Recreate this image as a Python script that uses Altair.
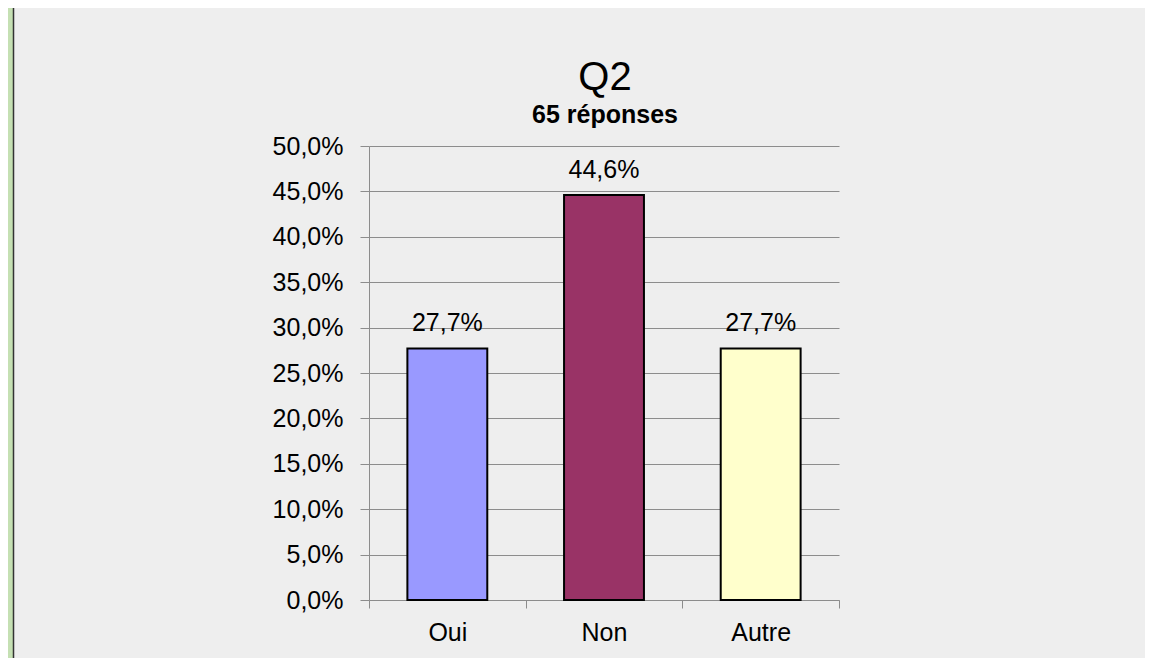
import altair as alt
import pandas as pd

categories = ["Oui", "Non", "Autre"]
shares = [0.277, 0.446, 0.277]
colors = ["#9999ff", "#993366", "#ffffcc"]
y_ticks = [0.0, 0.05, 0.10, 0.15, 0.20, 0.25, 0.30, 0.35, 0.40, 0.45, 0.50]
title_text = "Q2"
subtitle_text = "65 réponses"

df = pd.DataFrame({"cat": categories, "share": shares})

PW, PH = 470, 454
PL, PT = 361, 138
CW, CH = 1137, 650
FONT = "Liberation Sans"
AXIS_GRAY = "#8c8c8c"

x = alt.X(
    "cat:N", sort=categories, title=None,
    scale=alt.Scale(paddingInner=0, paddingOuter=0),
    axis=alt.Axis(labelAngle=0, tickBand="extent", tickSize=8, labelPadding=12,
                  grid=False, domainColor=AXIS_GRAY, tickColor=AXIS_GRAY,
                  labelFontSize=25, labelFont=FONT, labelColor="black"),
)
y = alt.Y(
    "share:Q", title=None,
    scale=alt.Scale(domain=[0, 0.5], nice=False, zero=True),
    axis=alt.Axis(values=y_ticks, format=".1%", grid=True, gridColor=AXIS_GRAY,
                  gridWidth=1, domainColor=AXIS_GRAY, tickColor=AXIS_GRAY,
                  tickSize=9, labelPadding=17, labelFontSize=25, labelFont=FONT,
                  labelColor="black"),
)

bars = alt.Chart(df).mark_bar(
    width=alt.RelativeBandSize(0.51), stroke="black", strokeWidth=2
).encode(
    x=x, y=y,
    color=alt.Color("cat:N", scale=alt.Scale(domain=categories, range=colors), legend=None),
)

labels = alt.Chart(df).mark_text(
    dy=-17, baseline="alphabetic", fontSize=25, font=FONT, color="black"
).encode(x=x, y=y, text=alt.Text("share:Q", format=".1%"))

deco = pd.DataFrame({"k": [0]})
strip = alt.Chart(deco).mark_rect(color="#c5e0b3").encode(
    x=alt.value(-PL), x2=alt.value(-PL + 5), y=alt.value(-PT), y2=alt.value(CH - PT)
)
edge = alt.Chart(deco).mark_rule(color="#333333", strokeWidth=1.5).encode(
    x=alt.value(-PL + 5.5), y=alt.value(-PT), y2=alt.value(CH - PT)
)

titles = pd.DataFrame({"t": [title_text]})
subtitles = pd.DataFrame({"t": [subtitle_text]})
title_mark = alt.Chart(titles).mark_text(
    fontSize=40, font=FONT, color="black", baseline="alphabetic", align="center"
).encode(text="t:N", x=alt.value(PW / 2 + 1), y=alt.value(-56))
subtitle_mark = alt.Chart(subtitles).mark_text(
    fontSize=25, fontWeight="bold", font=FONT, color="black", baseline="alphabetic",
    align="center"
).encode(text="t:N", x=alt.value(PW / 2 + 1), y=alt.value(-23))

chart = alt.layer(bars, labels, strip, edge, title_mark, subtitle_mark).properties(
    width=PW, height=PH,
    autosize=alt.AutoSizeParams(type="none"),
    padding={"left": PL, "top": PT, "right": CW - PL - PW, "bottom": CH - PT - PH},
    background="#eeeeee",
).configure(
    locale={"number": {"decimal": ",", "thousands": "\u00a0", "grouping": [3],
                       "currency": ["", "\u00a0€"]}}
).configure_view(strokeWidth=0)

chart.save("out.html", embed_options={"renderer": "svg", "actions": False})
